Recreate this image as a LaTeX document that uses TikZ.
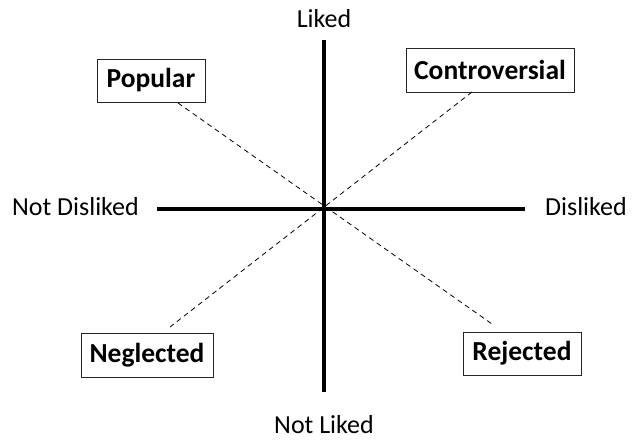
\documentclass[tikz,border=0pt]{standalone}
\usepackage{fontspec}
\setmainfont{Carlito}
\begin{document}
\begin{tikzpicture}[x=1pt,y=-1pt,
  axislabel/.style={font=\fontsize{26}{31}\selectfont, anchor=base, inner sep=0pt},
  catbox/.style={draw=black!85, line width=0.9pt, font=\fontsize{27.5}{32}\selectfont\bfseries, inner sep=0pt, minimum height=43pt},
  axis/.style={line width=3.6pt},
  diag/.style={line width=0.8pt, dash pattern=on 5pt off 4pt}]
\useasboundingbox (0,0) rectangle (633,443);
% axes
\coordinate (vt) at (324,40);
\coordinate (vb) at (324,392);
\coordinate (hl) at (157,209);
\coordinate (hr) at (525,209);
\draw[axis, line width=4pt] (vt) -- (vb);
\draw[axis, line width=3.4pt] (hl) -- (hr);
% labels
\node[axislabel] (liked) at (324,28) {Liked};
\node[axislabel] (notliked) at (324,434) {Not Liked};
\node[axislabel] (notdisliked) at (75.5,216) {Not Disliked};
\node[axislabel] (disliked) at (586,216) {Disliked};
% boxes
\node[catbox, minimum width=108pt] (popular) at (151,80.5) {Popular};
\node[catbox, minimum width=168pt, minimum height=44pt] (controversial) at (490,70) {Controversial};
\node[catbox, minimum width=132pt, minimum height=44pt] (neglected) at (147,355) {Neglected};
\node[catbox, minimum width=118pt] (rejected) at (522,353.5) {Rejected};
% diagonals
\coordinate (p1) at (178,103);
\coordinate (p2) at (492,324);
\coordinate (c1) at (472,92);
\coordinate (c2) at (170,327);
\draw[diag] (p1) -- (p2);
\draw[diag] (c1) -- (c2);
\end{tikzpicture}
\end{document}
